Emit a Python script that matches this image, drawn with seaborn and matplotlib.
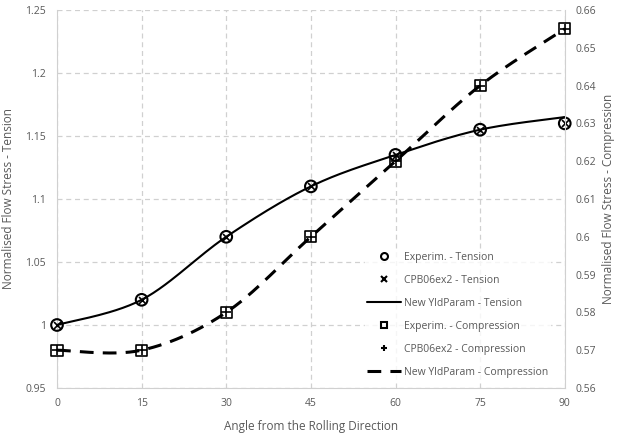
import numpy as np
import pandas as pd
import matplotlib
matplotlib.use("Agg")
import matplotlib.pyplot as plt
import seaborn as sns
from matplotlib.lines import Line2D

angles = [0, 15, 30, 45, 60, 75, 90]
exp_tension = [1.0, 1.02, 1.07, 1.11, 1.135, 1.155, 1.16]
cpb_tension = [1.0, 1.02, 1.07, 1.11, 1.135, 1.155, 1.16]
new_tension = [1.0, 1.02, 1.07, 1.11, 1.135, 1.155, 1.165]
exp_comp = [0.57, 0.57, 0.58, 0.60, 0.62, 0.64, 0.655]
cpb_comp = [0.57, 0.57, 0.58, 0.60, 0.62, 0.64, 0.655]
new_comp = [0.57, 0.57, 0.58, 0.60, 0.62, 0.64, 0.655]
left_ticks = [0.95, 1.0, 1.05, 1.1, 1.15, 1.2, 1.25]
left_labels = ["0.95", "1", "1.05", "1.1", "1.15", "1.2", "1.25"]
right_ticks = [0.56, 0.57, 0.58, 0.59, 0.60, 0.61, 0.62, 0.63, 0.64, 0.65, 0.66]
right_labels = ["0.56", "0.57", "0.58", "0.59", "0.6", "0.61", "0.62", "0.63", "0.64", "0.65", "0.66"]

sns.set_style("white")
plt.rcParams['font.family'] = ['Open Sans', 'DejaVu Sans']

GRAY = "#595959"
GRID = "#d0d0d0"


def smooth(x, y, n=30):
    # Bezier smoothing of the polyline (Excel "smoothed line" rendering)
    x = np.asarray(x, float); y = np.asarray(y, float)
    P = np.column_stack([x, y])
    P = np.vstack([P[0], P, P[-1]])
    out = []
    for i in range(1, len(P) - 2):
        p0, p1, p2, p3 = P[i - 1], P[i], P[i + 1], P[i + 2]
        c1 = p1 + (p2 - p0) / 6
        c2 = p2 - (p3 - p1) / 6
        t = np.linspace(0, 1, n)[:, None]
        seg = ((1 - t) ** 3) * p1 + 3 * ((1 - t) ** 2) * t * c1 + 3 * (1 - t) * t ** 2 * c2 + t ** 3 * p2
        out.append(seg if i == 1 else seg[1:])
    S = np.vstack(out)
    return S[:, 0], S[:, 1]


fig = plt.figure(figsize=(6.23, 4.34), dpi=100)
ax = fig.add_axes([0.0915, 0.106, 0.815, 0.871])
ax2 = ax.twinx()

xs, ys = smooth(angles, new_tension)
xc, yc = smooth(angles, new_comp)

sns.lineplot(x=xs, y=ys, ax=ax, sort=False, estimator=None, color="black", lw=1.5, zorder=3)
sns.scatterplot(x=angles, y=exp_tension, ax=ax, marker="o", s=70, facecolor="none",
                edgecolor="black", linewidth=1.5, zorder=4)
sns.scatterplot(x=angles, y=cpb_tension, ax=ax, marker="x", s=25, color="black",
                linewidth=1.2, zorder=5)

sns.lineplot(x=xc, y=yc, ax=ax2, sort=False, estimator=None, color="black", lw=2.2,
             zorder=3).lines[-1].set_dashes([4.5, 3])
sns.scatterplot(x=angles, y=exp_comp, ax=ax2, marker="s", s=65, facecolor="none",
                edgecolor="black", linewidth=1.2, zorder=4)
sns.scatterplot(x=angles, y=cpb_comp, ax=ax2, marker="+", s=45, color="black",
                linewidth=1.2, zorder=5)

for a in (ax, ax2):
    for c in a.collections:
        c.set_clip_on(False)
    for l in a.lines:
        l.set_clip_on(False)

ax.set_xlim(0, 90)
ax.set_ylim(0.95, 1.25)
ax2.set_ylim(0.56, 0.66)
ax.set_xticks(angles)
ax.set_xticklabels([str(a) for a in angles])
ax.set_yticks(left_ticks)
ax.set_yticklabels(left_labels)
ax2.set_yticks(right_ticks)
ax2.set_yticklabels(right_labels)

ax.grid(True, color=GRID, linestyle=(0, (4, 3)), linewidth=0.9)
ax2.grid(False)
for a in (ax, ax2):
    for s in a.spines.values():
        s.set_visible(False)
ax.spines['bottom'].set_visible(True)
ax.spines['bottom'].set_color(GRID)
ax.spines['left'].set_visible(True)
ax.spines['left'].set_color(GRID)
ax2.spines['right'].set_visible(True)
ax2.spines['right'].set_color(GRID)

ax.tick_params(axis='x', colors=GRAY, labelsize=7.5, length=4, width=0.8, color=GRID,
               direction='in', pad=7)
ax.tick_params(axis='y', colors=GRAY, labelsize=7.5, length=0, pad=8)
ax2.tick_params(axis='y', colors=GRAY, labelsize=7.5, length=0, pad=8)

ax.set_xlabel("Angle from the Rolling Direction", color=GRAY, fontsize=8.5, labelpad=8)
ax.set_ylabel("Normalised Flow Stress - Tension", color=GRAY, fontsize=8.5, labelpad=7)
ax2.set_ylabel("Normalised Flow Stress - Compression", color=GRAY, fontsize=8.5, labelpad=4)

handles = [
    Line2D([], [], marker="o", ls="none", mfc="none", mec="black", mew=1.5, ms=5),
    Line2D([], [], marker="x", ls="none", color="black", mew=1.5, ms=5),
    Line2D([], [], color="black", lw=1.5),
    Line2D([], [], marker="s", ls="none", mfc="none", mec="black", mew=1.5, ms=5),
    Line2D([], [], marker="+", ls="none", color="black", mew=1.5, ms=5),
    Line2D([], [], color="black", lw=2.2, dashes=[4.5, 3]),
]
labels = ["Experim. - Tension", "CPB06ex2 - Tension", "New YldParam - Tension",
          "Experim. - Compression", "CPB06ex2 - Compression", "New YldParam - Compression"]
leg = ax2.legend(handles, labels, loc="upper left", bbox_to_anchor=(0.578, 0.437),
                 bbox_transform=fig.transFigure, frameon=True, fontsize=7.5,
                 labelspacing=1.15, handlelength=3.2, handletextpad=0.3, borderpad=0.2)
leg.get_frame().set_facecolor("white")
leg.get_frame().set_edgecolor("white")
for t in leg.get_texts():
    t.set_color(GRAY)

fig.savefig("out.png", dpi=100)
